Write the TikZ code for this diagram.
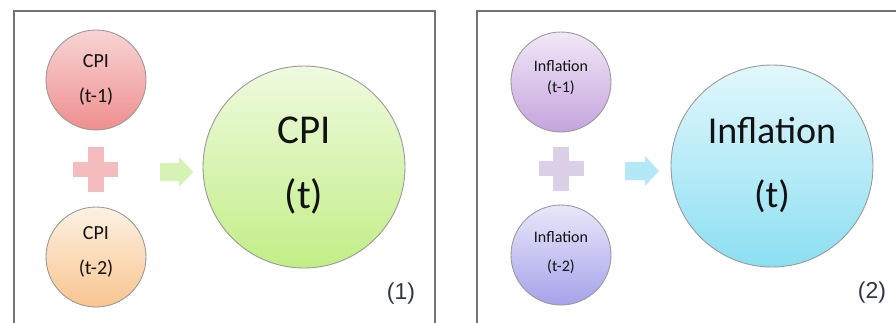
\documentclass[tikz,border=0pt]{standalone}
\usepackage{fontspec}
\setmainfont{Carlito}
\newfontfamily\numfont{Liberation Sans}
\definecolor{panelgray}{HTML}{727272}
\definecolor{rimgray}{HTML}{9A9A9A}
\definecolor{pinkT}{HTML}{F8D4D4}
\definecolor{pinkB}{HTML}{EF8E8E}
\definecolor{peachT}{HTML}{FDF1E2}
\definecolor{peachB}{HTML}{F8C58F}
\definecolor{greenT}{HTML}{EFFADF}
\definecolor{greenB}{HTML}{C2EE86}
\definecolor{lavT}{HTML}{F1E8F7}
\definecolor{lavB}{HTML}{C5A4DE}
\definecolor{periT}{HTML}{E8E8FA}
\definecolor{periB}{HTML}{A6A2EA}
\definecolor{cyanT}{HTML}{E2F7FC}
\definecolor{cyanB}{HTML}{8CDFF2}
\definecolor{plusPink}{HTML}{F4BCBC}
\definecolor{plusLav}{HTML}{DCCFE8}
\definecolor{arrGreen}{HTML}{D6F2B4}
\definecolor{arrCyan}{HTML}{B4E8F6}
\definecolor{numcol}{HTML}{2E3648}
\definecolor{txtcol}{HTML}{121212}
\begin{document}
\begin{tikzpicture}[x=1pt,y=-1pt,
  panel/.style={draw=panelgray,line width=1.8pt},
  smallc/.style={circle,draw=rimgray,line width=0.9pt,minimum size=100pt,inner sep=0pt},
  bigc/.style={circle,draw=rimgray,line width=0.9pt,minimum size=202pt,inner sep=0pt},
  cpismall/.style={align=center,text=txtcol,font=\fontsize{20}{35}\selectfont},
  infsmall/.style={align=center,text=txtcol,font=\fontsize{16}{21}\selectfont},
  infsmallb/.style={align=center,text=txtcol,font=\fontsize{16}{29}\selectfont},
  bigtxt/.style={align=center,text=txtcol,font=\fontsize{41}{65}\selectfont},
  bigtxtb/.style={align=center,text=txtcol,font=\fontsize{38}{64}\selectfont},
  numtxt/.style={text=numcol,font=\numfont\fontsize{23}{26}\selectfont}]
\useasboundingbox (0,0) rectangle (896,322);
\fill[white] (0,0) rectangle (896,322);
% panels
\draw[panel] (14,330) -- (14,11) -- (435,11) -- (435,330);
\draw[panel] (477,330) -- (477,11) -- (905,11);
% left panel
\node[smallc,top color=pinkT,bottom color=pinkB] (c1) at (96,80) {};
\node[cpismall] (c1t) at (96,80) {CPI\\(t-1)};
\node[smallc,top color=peachT,bottom color=peachB] (c2) at (96,257) {};
\node[cpismall] (c2t) at (96,252) {CPI\\(t-2)};
\fill[plusPink] (87.5,147) rectangle (103.5,192);
\fill[plusPink] (73,162) rectangle (118,177);
\fill[arrGreen] (160,163) -- (179,163) -- (179,157) -- (193,172) -- (179,187) -- (179,181) -- (160,181) -- cycle;
\node[bigc,top color=greenT,bottom color=greenB] (c3) at (304,167) {};
\node[bigtxt] (c3t) at (304,166) {CPI\\(t)};
\node[numtxt] (n1) at (401,294) {(1)};
% right panel
\node[smallc,top color=lavT,bottom color=lavB] (d1) at (561,82) {};
\node[infsmall] (d1t) at (561,78) {Inflation\\(t-1)};
\node[smallc,top color=periT,bottom color=periB] (d2) at (561,255) {};
\node[infsmallb] (d2t) at (561,253) {Inflation\\(t-2)};
\fill[plusLav] (553,147) rectangle (569,191);
\fill[plusLav] (539,161) rectangle (584,176);
\fill[arrCyan] (625,162) -- (645,162) -- (645,156) -- (659,171) -- (645,186) -- (645,180) -- (625,180) -- cycle;
\node[bigc,top color=cyanT,bottom color=cyanB] (d3) at (772,166) {};
\node[bigtxtb] (d3t) at (772,165) {Inflation\\(t)};
\node[numtxt] (n2) at (872,293) {(2)};
\end{tikzpicture}
\end{document}
